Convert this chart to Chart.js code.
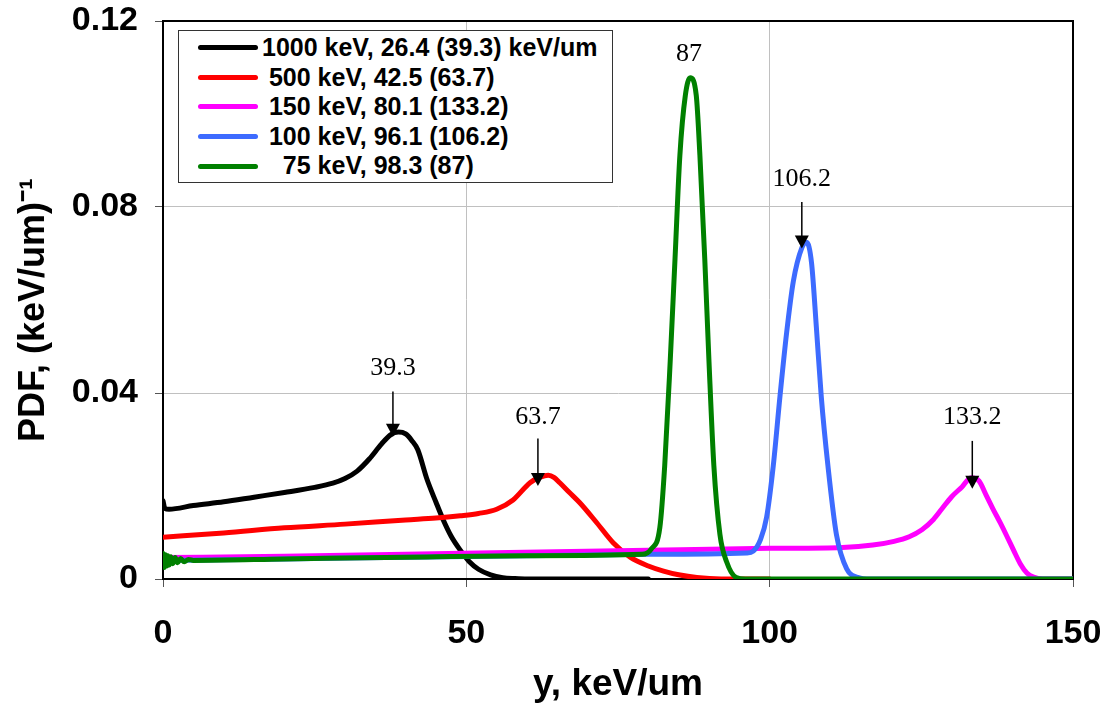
<!DOCTYPE html>
<html>
<head>
<meta charset="utf-8">
<script src="https://cdn.jsdelivr.net/npm/chart.js@4/dist/chart.umd.min.js"></script>
<style>
  body { margin: 0; background: #fff; }
  #wrap { position: relative; width: 1109px; height: 707px; }
  #legend {
    position: absolute; left: 178px; top: 30px; width: 435px; height: 153px;
    border: 1.5px solid #333; background: #fff; box-sizing: border-box;
    font: bold 25px "Liberation Sans", Arial, sans-serif; color: #000;
    padding-top: 2px;
  }
  .row { height: 29.6px; line-height: 29.6px; white-space: pre; display: flex; align-items: center; }
  .swatch { width: 60px; height: 5px; border-radius: 3px; margin-left: 19px; margin-right: 4px; flex: none; }
</style>
</head>
<body>
<div id="wrap">
  <canvas id="chart" width="1109" height="707"></canvas>
  <div id="legend"></div>
</div>
<script>
const seriesNames = ['1000 keV, 26.4 (39.3) keV/um', ' 500 keV, 42.5 (63.7)', ' 150 keV, 80.1 (133.2)', ' 100 keV, 96.1 (106.2)', '   75 keV, 98.3 (87)'];
const seriesColors = ['#000000', '#ff0000', '#ff00ff', '#3d6bff', '#008000'];

const xBlack = [0, 0.3, 1, 5, 10, 15, 20, 25, 28, 30, 32, 34, 36, 37.5, 38.8, 40, 41, 42, 43.5, 45, 46.2, 47.5, 49, 50.5, 52, 54, 56, 58, 60, 80];
const yBlack = [0.0168, 0.0152, 0.0150, 0.0158, 0.0166, 0.0176, 0.0186, 0.0197, 0.0206, 0.0216, 0.0232, 0.0258, 0.0290, 0.0310, 0.0316, 0.0312, 0.0298, 0.0278, 0.0215, 0.0165, 0.0127, 0.0092, 0.0062, 0.0037, 0.0021, 0.0009, 0.0003, 0.0001, 0, 0];

const xRed = [0, 10, 20, 30, 40, 45, 49, 52, 55, 57.7, 60.5, 62.2, 63.5, 64.5, 65.4, 67, 68.7, 71.5, 74.2, 77, 80, 82.5, 85, 88, 92, 100];
const yRed = [0.0090, 0.0099, 0.0110, 0.0118, 0.0127, 0.0131, 0.0136, 0.0141, 0.0150, 0.0170, 0.0207, 0.0219, 0.0223, 0.0218, 0.0207, 0.0186, 0.0164, 0.0121, 0.0078, 0.0047, 0.0028, 0.0017, 0.0009, 0.0003, 0, 0];

const xMagenta = [0, 20, 40, 57, 80, 100, 112, 117, 120.5, 123, 125.1, 127, 128.4, 130, 131.7, 133.2, 134.5, 135.7, 136.8, 138, 139.1, 140.2, 141.3, 142.4, 143.5, 145, 150];
const yMagenta = [0.0046, 0.0049, 0.0053, 0.0057, 0.0062, 0.0066, 0.0068, 0.0073, 0.0081, 0.0091, 0.0106, 0.0128, 0.0151, 0.0177, 0.0198, 0.0218, 0.0211, 0.0180, 0.0151, 0.0121, 0.0092, 0.0062, 0.0033, 0.0013, 0.0004, 0, 0];

const xBlue = [0, 20, 40, 60, 80, 96.2, 97.3, 98.5, 99.5, 100.6, 101.7, 102.8, 103.9, 105.3, 106.1, 106.9, 107.7, 108.5, 109.6, 111, 112.7, 114.9, 116, 150];
const yBlue = [0.0040, 0.0043, 0.0047, 0.0050, 0.0053, 0.0056, 0.0060, 0.0085, 0.0133, 0.0244, 0.0393, 0.0530, 0.0640, 0.0712, 0.0724, 0.0680, 0.0541, 0.0393, 0.0244, 0.0096, 0.0022, 0.0002, 0, 0];

const xGreen = [0, 0.2, 0.4, 0.6, 0.8, 1.0, 1.3, 1.6, 2.0, 2.4, 2.9, 3.5, 4.2, 5, 20, 40, 60, 79, 80.5, 81.9, 82.7, 83.6, 84.4, 85.2, 86.1, 86.9, 87.9, 88.5, 89.3, 90, 90.8, 91.8, 92.9, 94.5, 96, 150];
const yGreen = [0.0055, 0.0025, 0.0052, 0.0028, 0.0050, 0.0030, 0.0048, 0.0033, 0.0046, 0.0035, 0.0044, 0.0037, 0.0042, 0.0040, 0.0043, 0.0047, 0.0050, 0.0053, 0.0065, 0.0111, 0.0244, 0.0467, 0.0689, 0.0911, 0.1040, 0.1078, 0.1040, 0.0911, 0.0689, 0.0467, 0.0244, 0.0096, 0.0037, 0.0003, 0, 0];

const xTicks = [0, 50, 100, 150];
const yTicks = [0, 0.04, 0.08, 0.12];

// peak labels and arrows (data units)
const annotX = [37.9, 61.8, 86.7, 105.3, 133.4];
const annotText = ['39.3', '63.7', '87', '106.2', '133.2'];
const annotLabelY = [0.0454, 0.0349, 0.1129, 0.0859, 0.0348];
const annotArrowTop = [0.0403, 0.0302, null, 0.0811, 0.0297];
const annotArrowTip = [0.0306, 0.0200, null, 0.0711, 0.0194];

const xs = [xBlack, xRed, xMagenta, xBlue, xGreen];
const ys = [yBlack, yRed, yMagenta, yBlue, yGreen];

// legend
const legend = document.getElementById('legend');
seriesNames.forEach((name, i) => {
    const row = document.createElement('div');
    row.className = 'row';
    row.innerHTML = `<span class="swatch" style="background:${seriesColors[i]}"></span><span>${name}</span>`;
    legend.appendChild(row);
});

const frameAndNotes = {
    id: 'frameAndNotes',
    beforeDatasetsDraw(chart) {
        // box round plot area, under the curves
        const ctx = chart.ctx;
        const a = chart.chartArea;
        ctx.save();
        ctx.strokeStyle = '#000';
        ctx.lineWidth = 2;
        ctx.strokeRect(a.left, a.top, a.right - a.left, a.bottom - a.top);
        ctx.restore();
    },
    afterDatasetsDraw(chart) {
        const ctx = chart.ctx;
        const sx = chart.scales.x, sy = chart.scales.y;
        ctx.save();
        ctx.fillStyle = '#000';
        ctx.strokeStyle = '#000';
        ctx.font = '26px "Liberation Serif", "Times New Roman", serif';
        ctx.textAlign = 'center';
        ctx.textBaseline = 'middle';
        annotX.forEach((x, i) => {
            const px = sx.getPixelForValue(x);
            ctx.fillText(annotText[i], px, sy.getPixelForValue(annotLabelY[i]));
            if (annotArrowTop[i] === null) return;
            const top = sy.getPixelForValue(annotArrowTop[i]);
            const tip = sy.getPixelForValue(annotArrowTip[i]);
            ctx.lineWidth = 1.5;
            ctx.beginPath();
            ctx.moveTo(px, top);
            ctx.lineTo(px, tip - 12);
            ctx.stroke();
            ctx.beginPath();
            ctx.moveTo(px - 7, tip - 13);
            ctx.lineTo(px + 7, tip - 13);
            ctx.lineTo(px, tip);
            ctx.closePath();
            ctx.fill();
        });
        ctx.restore();
    }
};

new Chart(document.getElementById('chart'), {
    type: 'line',
    data: {
        datasets: seriesNames.map((name, i) => ({
            label: name,
            data: xs[i].map((x, j) => ({ x: x, y: ys[i][j] })),
            borderColor: seriesColors[i],
            backgroundColor: seriesColors[i],
            borderWidth: 5,
            pointRadius: 0,
            cubicInterpolationMode: 'monotone',
            borderCapStyle: 'round',
            borderJoinStyle: 'round',
            order: seriesNames.length - i
        }))
    },
    options: {
        responsive: false,
        animation: false,
        layout: { padding: { top: 21, right: 36, left: 0, bottom: 0 } },
        plugins: { legend: { display: false }, tooltip: { enabled: false } },
        scales: {
            x: {
                type: 'linear', min: 0, max: 150,
                afterBuildTicks: s => { s.ticks = xTicks.map(v => ({ value: v })); },
                afterFit: s => { s.height = 128; s.paddingLeft = 0; s.paddingRight = 0; },
                ticks: { color: '#000', padding: 26, maxRotation: 0,
                    font: { family: '"Liberation Sans", Arial, sans-serif', size: 34, weight: 'bold' } },
                grid: { color: '#c0c0c0', lineWidth: 1, tickLength: 8, tickColor: '#555' },
                border: { color: '#000', width: 2 },
                title: { display: true, text: 'y, keV/um', color: '#000', padding: { top: 2, bottom: 0 },
                    font: { family: '"Liberation Sans", Arial, sans-serif', size: 37, weight: 'bold' } }
            },
            y: {
                type: 'linear', min: 0, max: 0.12,
                afterBuildTicks: s => { s.ticks = yTicks.map(v => ({ value: v })); },
                afterFit: s => { s.width = 163; s.paddingTop = 0; s.paddingBottom = 0; },
                ticks: { color: '#000', padding: 17,
                    callback: v => String(v),
                    font: { family: '"Liberation Sans", Arial, sans-serif', size: 34, weight: 'bold' } },
                grid: { color: '#c0c0c0', lineWidth: 1, tickLength: 8, tickColor: '#555' },
                border: { color: '#000', width: 2 },
                title: { display: true, text: 'PDF, (keV/um)⁻¹  ', color: '#000', padding: { top: 12, bottom: 0 },
                    font: { family: '"Liberation Sans", Arial, sans-serif', size: 36, weight: 'bold' } }
            }
        }
    },
    plugins: [frameAndNotes]
});
</script>
</body>
</html>
